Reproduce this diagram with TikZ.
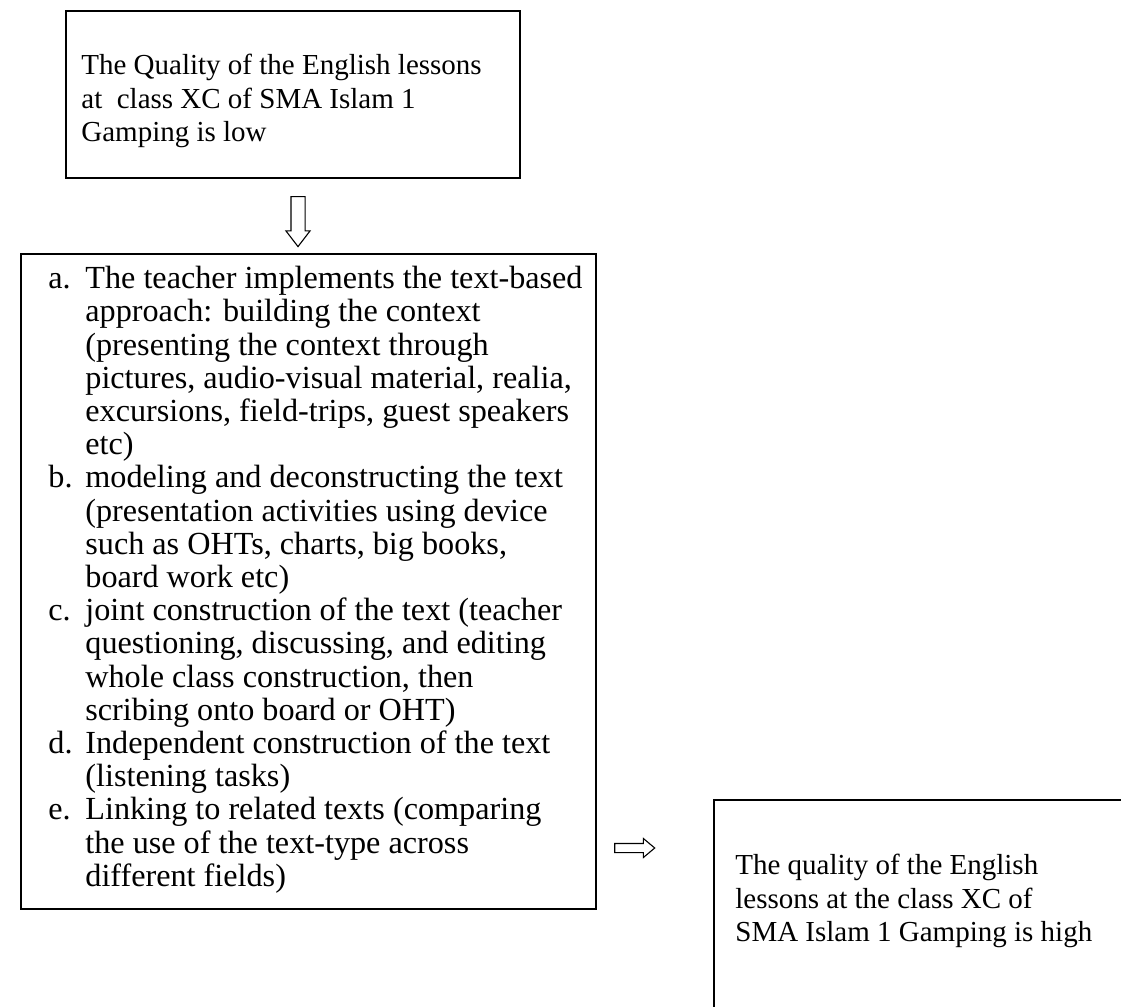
\documentclass[tikz,border=0pt]{standalone}
\usepackage{fontspec}
\setmainfont{Liberation Serif}
\usetikzlibrary{shapes.arrows}
\begin{document}
\begin{tikzpicture}[x=0.5pt,y=-0.5pt,
  box/.style={draw, line width=1pt, inner sep=0pt, anchor=north west},
  txt/.style={align=left, inner sep=0pt, anchor=north west, font=\fontsize{14.5pt}{16.7pt}\selectfont},
  bigtxt/.style={txt, font=\fontsize{16.1pt}{16.6pt}\selectfont},
  hollow/.style={single arrow, draw, line width=0.55pt, inner xsep=0pt, single arrow head indent=0pt}]
\useasboundingbox (0,0) rectangle (1121,1007);
\clip (0,0) rectangle (1121,1007);
% top box
\node[box, minimum width=227pt, minimum height=83.5pt] (low) at (65,10) {};
\node[txt] (lowtext) at (81,54) {The Quality of the English lessons\\at\ \ class XC of SMA Islam 1\\Gamping is low};
% main box
\node[box, minimum width=287.5pt, minimum height=327.5pt] (steps) at (20,253) {};
\node[bigtxt] (stepstext) at (48,266) {%
\makebox[18.5pt][l]{a.}The teacher implements the text-based\\
\hspace*{18.5pt}approach: building the context\\
\hspace*{18.5pt}(presenting the context through\\
\hspace*{18.5pt}pictures, audio-visual material, realia,\\
\hspace*{18.5pt}excursions, field-trips, guest speakers\\
\hspace*{18.5pt}etc)\\
\makebox[18.5pt][l]{b.}modeling and deconstructing the text\\
\hspace*{18.5pt}(presentation activities using device\\
\hspace*{18.5pt}such as OHTs, charts, big books,\\
\hspace*{18.5pt}board work etc)\\
\makebox[18.5pt][l]{c.}joint construction of the text (teacher\\
\hspace*{18.5pt}questioning, discussing, and editing\\
\hspace*{18.5pt}whole class construction, then\\
\hspace*{18.5pt}scribing onto board or OHT)\\
\makebox[18.5pt][l]{d.}Independent construction of the text\\
\hspace*{18.5pt}(listening tasks)\\
\makebox[18.5pt][l]{e.}Linking to related texts (comparing\\
\hspace*{18.5pt}the use of the text-type across\\
\hspace*{18.5pt}different fields)};
% right box
\node[box, minimum width=213.5pt, minimum height=115.5pt] (high) at (713,799) {};
\node[txt] (hightext) at (735,854) {The quality of the English\\lessons at the class XC of\\SMA Islam 1 Gamping is high};
% arrows
\node[hollow, rotate=-90, minimum height=25pt, inner ysep=3.25pt,
  single arrow head extend=2.5pt, single arrow tip angle=75] (down) at (298,217) {};
\node[hollow, minimum height=20pt, inner ysep=2pt,
  single arrow head extend=2.5pt, single arrow tip angle=80] (right) at (632,848) {};
\end{tikzpicture}
\end{document}
